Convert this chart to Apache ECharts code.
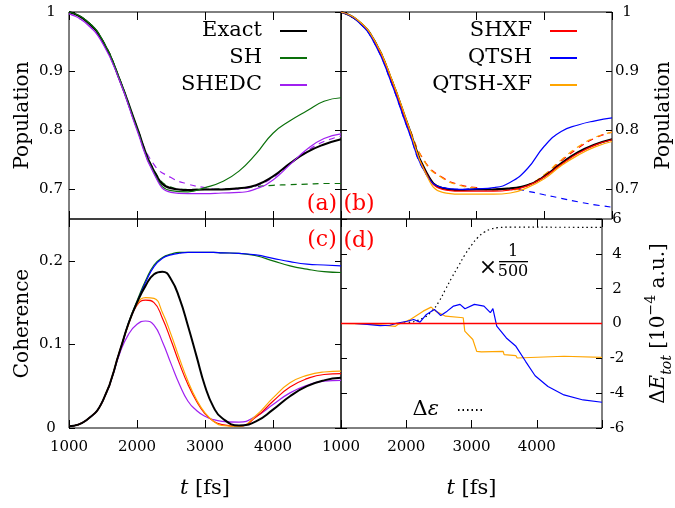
<!DOCTYPE html>
<html>
<head>
<meta charset="utf-8">
<script src="https://cdn.jsdelivr.net/npm/echarts@6/dist/echarts.min.js"></script>
<style>
  html, body { margin: 0; padding: 0; background: #fff; }
  #chart { width: 675px; height: 508px; }
</style>
</head>
<body>
<div id="chart"></div>
<script>
// ---- data ----
// population panels (a) and (b)
const tPop = [1000, 1250, 1500, 1750, 2000, 2250, 2500, 2750, 3000, 3250, 3500, 3750, 4000, 4250, 4500, 4750, 5000];
const popExact = [1.000, 0.985, 0.950, 0.884, 0.805, 0.731, 0.702, 0.699, 0.700, 0.700, 0.702, 0.707, 0.722, 0.744, 0.763, 0.776, 0.785];
const popSH = [1.000, 0.986, 0.951, 0.885, 0.803, 0.728, 0.698, 0.696, 0.703, 0.713, 0.731, 0.760, 0.795, 0.816, 0.833, 0.849, 0.855];
const popSHd = [1.000, 0.986, 0.951, 0.885, 0.805, 0.733, 0.704, 0.700, 0.700, 0.701, 0.702, 0.705, 0.707, 0.708, 0.709, 0.710, 0.710];
const popSHEDC = [0.997, 0.981, 0.946, 0.882, 0.800, 0.726, 0.695, 0.693, 0.693, 0.694, 0.695, 0.701, 0.716, 0.742, 0.768, 0.786, 0.794];
const popSHEDCd = [0.997, 0.981, 0.947, 0.884, 0.803, 0.742, 0.720, 0.709, 0.703, 0.700, 0.701, 0.706, 0.720, 0.743, 0.765, 0.781, 0.790];
const popSHXF = [1.000, 0.985, 0.949, 0.882, 0.802, 0.729, 0.700, 0.697, 0.697, 0.697, 0.699, 0.706, 0.721, 0.742, 0.761, 0.775, 0.784];
const popSHXFd = [1.000, 0.985, 0.949, 0.884, 0.806, 0.745, 0.720, 0.708, 0.703, 0.700, 0.700, 0.707, 0.724, 0.748, 0.770, 0.787, 0.797];
const popQTSH = [1.000, 0.984, 0.946, 0.878, 0.798, 0.727, 0.703, 0.700, 0.701, 0.703, 0.712, 0.735, 0.773, 0.798, 0.809, 0.816, 0.821];
const popQTSHd = [1.000, 0.984, 0.946, 0.878, 0.798, 0.727, 0.703, 0.700, 0.701, 0.701, 0.701, 0.697, 0.691, 0.685, 0.679, 0.674, 0.670];
const popQTSHXF = [1.000, 0.986, 0.951, 0.886, 0.806, 0.727, 0.695, 0.692, 0.692, 0.692, 0.694, 0.703, 0.718, 0.740, 0.758, 0.772, 0.781];
const popQTSHXFd = [1.000, 0.986, 0.951, 0.886, 0.806, 0.744, 0.719, 0.707, 0.702, 0.699, 0.699, 0.707, 0.725, 0.750, 0.772, 0.788, 0.797];

// coherence panel (c)
const tCoh = [1000, 1250, 1500, 1750, 1875, 2000, 2125, 2250, 2375, 2500, 2625, 2750, 2875, 3000, 3125, 3250, 3500, 3750, 4000, 4250, 4500, 4750, 5000];
const cohExact = [0.002, 0.009, 0.033, 0.093, 0.125, 0.150, 0.170, 0.184, 0.187, 0.178, 0.155, 0.122, 0.086, 0.050, 0.025, 0.012, 0.003, 0.008, 0.022, 0.038, 0.050, 0.057, 0.060];
const cohSH = [0.002, 0.009, 0.033, 0.093, 0.126, 0.152, 0.176, 0.195, 0.204, 0.208, 0.210, 0.210, 0.210, 0.210, 0.210, 0.2095, 0.209, 0.206, 0.200, 0.194, 0.190, 0.187, 0.186];
const cohSHEDC = [0.002, 0.009, 0.033, 0.090, 0.112, 0.124, 0.128, 0.123, 0.103, 0.077, 0.052, 0.032, 0.021, 0.014, 0.010, 0.008, 0.007, 0.014, 0.028, 0.042, 0.051, 0.056, 0.057];
const cohSHXF = [0.002, 0.009, 0.033, 0.093, 0.124, 0.147, 0.153, 0.150, 0.131, 0.105, 0.077, 0.052, 0.032, 0.017, 0.008, 0.004, 0.002, 0.013, 0.032, 0.049, 0.059, 0.064, 0.065];
const cohQTSH = [0.002, 0.009, 0.033, 0.092, 0.125, 0.150, 0.174, 0.193, 0.203, 0.207, 0.209, 0.210, 0.210, 0.210, 0.210, 0.2095, 0.209, 0.207, 0.203, 0.199, 0.196, 0.195, 0.194];
const cohQTSHXF = [0.002, 0.009, 0.033, 0.093, 0.124, 0.148, 0.156, 0.155, 0.138, 0.112, 0.083, 0.056, 0.034, 0.018, 0.008, 0.003, 0.002, 0.015, 0.036, 0.054, 0.063, 0.067, 0.068];

// energy panel (d), units of 1e-4 a.u.
const tEps = [1000, 1750, 2000, 2250, 2400, 2500, 2600, 2700, 2800, 2900, 3000, 3100, 3200, 3300, 3400, 3600, 5000];
const eEps = [0, 0, 0.05, 0.3, 0.75, 1.25, 1.95, 2.65, 3.3, 3.95, 4.5, 4.95, 5.25, 5.42, 5.5, 5.53, 5.52];
const tEQTSH = [1000, 1200, 1400, 1600, 1750, 1870, 2015, 2113, 2211, 2309, 2431, 2529, 2627, 2725, 2824, 2900, 3044, 3191, 3289, 3328, 3387, 3534, 3681, 3828, 3975, 4172, 4417, 4711, 5000];
const eQTSH = [0, 0, -0.05, -0.12, -0.1, 0.03, 0.13, 0.23, 0.08, 0.52, 0.81, 0.46, 0.71, 1.0, 1.1, 0.85, 1.1, 1.0, 0.62, 0.85, -0.15, -0.83, -1.31, -2.17, -3.0, -3.62, -4.1, -4.39, -4.52];
const tEQTSHXF = [1000, 1400, 1600, 1830, 1870, 2064, 2260, 2382, 2450, 2603, 2873, 2897, 3020, 3080, 3152, 3485, 3500, 3681, 3700, 4417, 5000];
const eQTSHXF = [0, -0.03, -0.08, -0.17, -0.06, 0.23, 0.71, 0.94, 0.71, 0.42, 0.33, -0.44, -0.92, -1.6, -1.63, -1.6, -1.79, -1.85, -1.98, -1.88, -1.94];
const tESHXF = [1000, 5000];
const eSHXF = [0, 0];

const xTicks = [1000, 2000, 3000, 4000, 5000];
const xLabels = [1000, 2000, 3000, 4000];
const popTicks = [0.7, 0.8, 0.9, 1];
const cohTicks = [0, 0.1, 0.2];
const eTicks = [-6, -4, -2, 0, 2, 4, 6];

// ---- styling ----
const FONT = 'DejaVu Serif';
const C = { exact: '#000000', sh: '#0a700a', shedc: '#a020f0', shxf: '#ff0000', qtsh: '#0000ff', qtshxf: '#ffa500' };

const chart = echarts.init(document.getElementById('chart'));

function zip(t, v) { return t.map((x, i) => [x, v[i]]); }

function xAx(grid, pos, labels) {
    return {
        type: 'value', gridIndex: grid, position: pos, min: 1000, max: 5000,
        axisLine: { show: false, onZero: false },
        axisTick: { show: true, inside: true, length: 8, customValues: xTicks, lineStyle: { color: '#000' } },
        axisLabel: {
            show: labels, margin: 12, color: '#000', fontFamily: FONT, fontSize: 15,
            customValues: xLabels, formatter: v => String(v)
        },
        splitLine: { show: false },
        name: labels ? '{i|t} [fs]' : '', nameLocation: 'middle', nameGap: 50,
        nameTextStyle: {
            color: '#000', fontFamily: FONT, fontSize: 21,
            rich: { i: { fontFamily: FONT, fontSize: 21, fontStyle: 'italic' } }
        }
    };
}

function yAx(grid, pos, min, max, ticks, labels, name, fmt) {
    return {
        type: 'value', gridIndex: grid, position: pos, min: min, max: max,
        axisLine: { show: false, onZero: false },
        axisTick: { show: true, inside: true, length: 6, customValues: ticks, lineStyle: { color: '#000' } },
        axisLabel: {
            show: labels, customValues: ticks, color: '#000', fontFamily: FONT, fontSize: 15,
            align: 'center', margin: pos === 'left' ? 18 : 15, formatter: fmt
        },
        splitLine: { show: false },
        name: name || '', nameLocation: 'middle', nameRotate: 90,
        nameGap: pos === 'left' ? 36 : 42,
        nameTextStyle: {
            color: '#000', fontFamily: FONT, fontSize: 20,
            rich: {
                d: { fontFamily: FONT, fontSize: 20, lineHeight: 30 },
                e: { fontFamily: FONT, fontSize: 20, fontStyle: 'italic', lineHeight: 30 },
                s: { fontFamily: FONT, fontSize: 14, fontStyle: 'italic', verticalAlign: 'bottom', lineHeight: 30 },
                p: { fontFamily: FONT, fontSize: 14, verticalAlign: 'top', lineHeight: 30 }
            }
        }
    };
}

const popFmt = v => (v === 1 ? '1' : v.toFixed(1));
const cohFmt = v => (v === 0 ? '0' : v.toFixed(1));
const eFmt = v => String(v);

function line(name, panel, t, v, color, width, type, smooth) {
    return {
        name: name, type: 'line', xAxisIndex: panel * 2, yAxisIndex: panel * 2,
        data: zip(t, v), symbol: 'none', showSymbol: false, smooth: smooth ? 0.5 : false,
        lineStyle: { color: color, width: width, type: type || 'solid' },
        itemStyle: { color: color },
        emphasis: { disabled: true }, animation: false
    };
}

const dash = [6, 5];

const series = [
    // (a)
    line('SH-d', 0, tPop, popSHd, C.sh, 1.2, dash, true),
    line('SHEDC-d', 0, tPop, popSHEDCd, C.shedc, 1.2, dash, true),
    line('Exact', 0, tPop, popExact, C.exact, 2, 'solid', true),
    line('SH', 0, tPop, popSH, C.sh, 1.2, 'solid', true),
    line('SHEDC', 0, tPop, popSHEDC, C.shedc, 1.2, 'solid', true),
    // (b)
    line('SHXF-d', 1, tPop, popSHXFd, C.shxf, 1.2, dash, true),
    line('QTSH-d', 1, tPop, popQTSHd, C.qtsh, 1.2, dash, true),
    line('QTSH-XF-d', 1, tPop, popQTSHXFd, C.qtshxf, 1.2, dash, true),
    line('Exact-b', 1, tPop, popExact, C.exact, 2, 'solid', true),
    line('SHXF', 1, tPop, popSHXF, C.shxf, 1.2, 'solid', true),
    line('QTSH', 1, tPop, popQTSH, C.qtsh, 1.2, 'solid', true),
    line('QTSH-XF', 1, tPop, popQTSHXF, C.qtshxf, 1.2, 'solid', true),
    // (c)
    line('SH-c', 2, tCoh, cohSH, C.sh, 1.2, 'solid', true),
    line('QTSH-c', 2, tCoh, cohQTSH, C.qtsh, 1.2, 'solid', true),
    line('SHEDC-c', 2, tCoh, cohSHEDC, C.shedc, 1.2, 'solid', true),
    line('SHXF-c', 2, tCoh, cohSHXF, C.shxf, 1.2, 'solid', true),
    line('QTSH-XF-c', 2, tCoh, cohQTSHXF, C.qtshxf, 1.2, 'solid', true),
    line('Exact-c', 2, tCoh, cohExact, C.exact, 2, 'solid', true),
    // (d)
    line('Δε', 3, tEps, eEps, '#000', 1.2, [1.5, 3], true),
    line('QTSH-XF-e', 3, tEQTSHXF, eQTSHXF, C.qtshxf, 1.2, 'solid', false),
    line('QTSH-e', 3, tEQTSH, eQTSH, C.qtsh, 1.2, 'solid', false),
    line('SHXF-e', 3, tESHXF, eSHXF, C.shxf, 1.5, 'solid', false)
];

function legend(names, right, top, fmt) {
    return {
        data: names, orient: 'vertical', align: 'right', right: right, top: top, padding: 0,
        itemWidth: 27, itemHeight: 12, itemGap: 1, selectedMode: false,
        itemStyle: { opacity: 0 },
        formatter: fmt || (name => '{n|' + name + '}'),
        textStyle: {
            color: '#000', fontFamily: FONT, fontSize: 21, lineHeight: 26,
            rich: {
                n: { fontFamily: FONT, fontSize: 21, padding: [0, 13, 0, 0] },
                a: { fontFamily: FONT, fontSize: 21 },
                i: { fontFamily: FONT, fontSize: 21, fontStyle: 'italic', padding: [0, 14, 0, 0] }
            }
        }
    };
}

function label(txt, x, y) {
    return {
        type: 'text', x: x, y: y, silent: true,
        style: { text: txt, fill: '#ff0000', font: '22px "DejaVu Serif"', align: 'center', verticalAlign: 'middle' }
    };
}

function blackText(txt, x, y, size) {
    return {
        type: 'text', x: x, y: y, silent: true,
        style: { text: txt, fill: '#000', font: size + 'px "DejaVu Serif"', align: 'center', verticalAlign: 'middle' }
    };
}

chart.setOption({
    backgroundColor: '#fff',
    animation: false,
    grid: [
        { left: 69, top: 12, width: 272, height: 207, show: true, borderColor: '#000', borderWidth: 1 },
        { left: 341, top: 12, width: 271, height: 207, show: true, borderColor: '#000', borderWidth: 1 },
        { left: 69, top: 219, width: 272, height: 209, show: true, borderColor: '#000', borderWidth: 1 },
        { left: 341, top: 219, width: 271, height: 209, show: true, borderColor: '#000', borderWidth: 1 }
    ],
    xAxis: [
        xAx(0, 'bottom', false), xAx(0, 'top', false),
        xAx(1, 'bottom', false), xAx(1, 'top', false),
        xAx(2, 'bottom', true), xAx(2, 'top', false),
        xAx(3, 'bottom', true), xAx(3, 'top', false)
    ],
    yAxis: [
        yAx(0, 'left', 0.65, 1, popTicks, true, 'Population', popFmt),
        yAx(0, 'right', 0.65, 1, popTicks, false),
        yAx(1, 'left', 0.65, 1, popTicks, false),
        yAx(1, 'right', 0.65, 1, popTicks, true, 'Population', popFmt),
        yAx(2, 'left', 0, 0.25, cohTicks, true, 'Coherence', cohFmt),
        yAx(2, 'right', 0, 0.25, cohTicks, false),
        yAx(3, 'left', -6, 6, eTicks, false),
        yAx(3, 'right', -6, 6, eTicks, true, '{d|Δ}{e|E}{s|tot}{d| [10}{p|−4}{d| a.u.]}', eFmt)
    ],
    legend: [
        legend(['Exact', 'SH', 'SHEDC'], 367, 18),
        legend(['SHXF', 'QTSH', 'QTSH-XF'], 97, 18),
        legend(['Δε'], 189, 397, () => '{a|Δ}{i|ε}')
    ],
    series: series,
    graphic: [
        label('(a)', 322, 204),
        label('(b)', 359, 204),
        label('(c)', 322, 240),
        label('(d)', 359, 241),
        blackText('×', 488, 268, 22),
        blackText('1', 513, 252, 16),
        { type: 'rect', silent: true, shape: { x: 499, y: 261, width: 29, height: 1.3 }, style: { fill: '#000' } },
        blackText('500', 513, 272, 16)
    ]
});
</script>
</body>
</html>
